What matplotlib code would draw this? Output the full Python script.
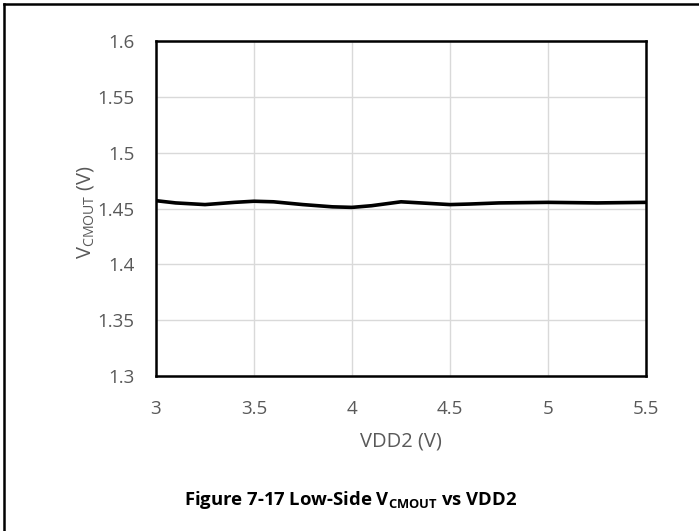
import matplotlib
matplotlib.use("Agg")
import matplotlib.pyplot as plt
from matplotlib.lines import Line2D

plt.rcParams['font.family'] = ['Open Sans', 'DejaVu Sans']

vdd2 = [3.0, 3.1, 3.25, 3.4, 3.5, 3.6, 3.75, 3.9, 4.0, 4.1, 4.25, 4.4, 4.5, 4.6, 4.75, 5.0, 5.25, 5.5]
vcmout = [1.457, 1.455, 1.4535, 1.4555, 1.4565, 1.456, 1.4535, 1.4515, 1.451, 1.4525, 1.456, 1.4545, 1.4535, 1.454, 1.455, 1.4555, 1.455, 1.4555]
xticks = [3, 3.5, 4, 4.5, 5, 5.5]
yticks = [1.3, 1.35, 1.4, 1.45, 1.5, 1.55, 1.6]
xticklabels = ["3", "3.5", "4", "4.5", "5", "5.5"]
yticklabels = ["1.3", "1.35", "1.4", "1.45", "1.5", "1.55", "1.6"]

W, H = 699, 531
fig = plt.figure(figsize=(W / 100, H / 100), dpi=100)
ax = fig.add_axes([156 / W, 1 - 376 / H, 490 / W, 335 / H])

ax.plot(vdd2, vcmout, color='black', lw=2.6, solid_joinstyle='round')
ax.set_xlim(3, 5.5)
ax.set_ylim(1.3, 1.6)
ax.set_xticks(xticks)
ax.set_xticklabels(xticklabels)
ax.set_yticks(yticks)
ax.set_yticklabels(yticklabels)
ax.grid(True, color='#d9d9d9', lw=1.0)
ax.set_axisbelow(True)
ax.tick_params(length=0, labelsize=13.5, labelcolor='#595959')
ax.tick_params(axis='x', pad=17)
ax.tick_params(axis='y', pad=15.5)
for s in ax.spines.values():
    s.set_color('black')
    s.set_linewidth(1.8)

ax.set_xlabel('VDD2 (V)', fontsize=14.5, color='#595959', va='center')
ax.xaxis.set_label_coords(0.5, -(442 - 376) / 335)
ax.set_ylabel(r'V$_{\mathregular{CMOUT}}$ (V)', fontsize=14.5, color='#595959', va='center')
ax.yaxis.set_label_coords(-(156 - 86) / 490, 0.49)

fig.text(351 / W, 1 - 500 / H, r'Figure 7-17 Low-Side V$_{\mathregular{CMOUT}}$ vs VDD2',
         ha='center', va='center', fontsize=13.3, fontweight='bold', color='black')

# figure frame (left and top edges visible)
fig.add_artist(Line2D([3.5 / W, 3.5 / W], [0, 1 - 3.5 / H], transform=fig.transFigure, color='black', lw=1.8))
fig.add_artist(Line2D([3.5 / W, 1], [1 - 3.5 / H, 1 - 3.5 / H], transform=fig.transFigure, color='black', lw=1.8))

fig.savefig('out.png', dpi=100)
